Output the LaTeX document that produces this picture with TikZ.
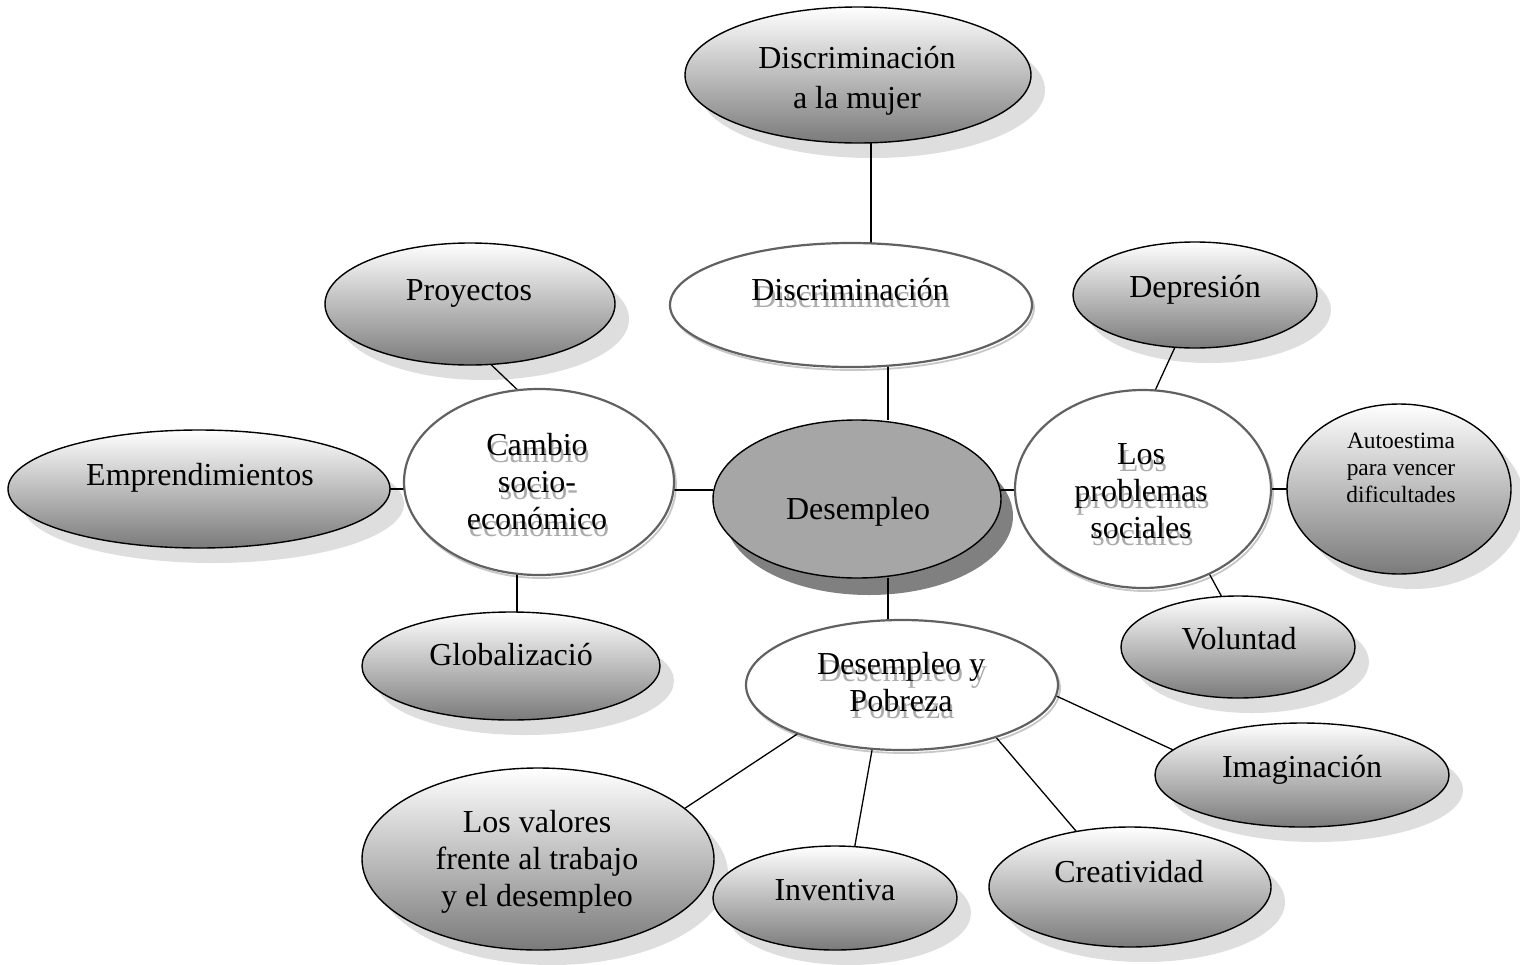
\documentclass[tikz,border=0pt]{standalone}
\usepackage{fontspec}
\setmainfont{Liberation Serif}
\usetikzlibrary{shapes.geometric}
\pgfdeclarelayer{bg}
\pgfdeclarelayer{mid}
\pgfsetlayers{bg,mid,main}
\newcommand{\topst}{\rule{0pt}{22.4pt}}
\newcommand{\botst}{\rule[-8pt]{0pt}{8pt}}
\newcommand{\stopst}{\rule{0pt}{16.4pt}}
\newcommand{\sbotst}{\rule[-5.8pt]{0pt}{5.8pt}}
\tikzset{
  bub/.style={ellipse, inner sep=0pt, outer sep=0pt},
  gbub/.style={bub, draw=black, line width=1.4pt, top color=white, bottom color=black!52},
  wbub/.style={bub, draw=black!62, line width=2.2pt, fill=white},
  cbub/.style={bub, draw=black, line width=1.4pt, fill=black!35},
  lightshadow/.style={fill=black!13},
  darkshadow/.style={fill=black!50},
  wring/.style={draw=black!22, line width=1.8pt},
  txt/.style={align=center, inner sep=0pt, font=\fontsize{32}{36.8}\selectfont},
  smalltxt/.style={align=center, inner sep=0pt, font=\fontsize{23.4}{26.7}\selectfont},
  txtshadow/.style={text=black!33},
  conn/.style={draw=black, line width=1.3pt},
}
% gray bubble: name, x, y, rx, ry
\newcommand{\grayb}[5]{%
  \begin{pgfonlayer}{bg}
    \fill[lightshadow] (#2+14,#3+15) ellipse [x radius=#4, y radius=#5];
  \end{pgfonlayer}
  \node[gbub, minimum width=#4*2pt, minimum height=#5*2pt] (#1) at (#2,#3) {};}
% white bubble: name, x, y, rx, ry
\newcommand{\whiteb}[5]{%
  \begin{pgfonlayer}{bg}
    \draw[wring] (#2+2,#3+3) ellipse [x radius=#4, y radius=#5];
  \end{pgfonlayer}
  \node[wbub, minimum width=#4*2pt, minimum height=#5*2pt] (#1) at (#2,#3) {};}
% shadowed text for white bubbles: name, x, y, text
\newcommand{\shtext}[4]{%
  \node[txt, txtshadow] (#1s) at (#2+2,#3+7) {\topst #4\botst};
  \node[txt] (#1) at (#2,#3) {\topst #4\botst};}
\begin{document}
\begin{tikzpicture}[x=1pt, y=-1pt]
\useasboundingbox (0,0) rectangle (1520,964);
\begin{pgfonlayer}{bg}
  \fill[white] (0,0) rectangle (1520,964);
\end{pgfonlayer}

% gray bubbles
\grayb{mujer}{858}{75}{173}{68}
\grayb{proy}{470}{304}{145}{61}
\grayb{empr}{199}{489}{191}{59}
\grayb{glob}{511}{666}{149}{54}
\grayb{dep}{1195}{295}{122}{53}
\grayb{auto}{1399}{489}{112}{85}
\grayb{vol}{1238}{647}{117}{51}
\grayb{imag}{1302}{775}{147}{52}
\grayb{val}{538}{859}{176}{91}
\grayb{inv}{835}{898}{122}{52}
\grayb{cre}{1130}{887}{141}{60}

% white bubbles
\whiteb{disc}{851}{305}{181}{62}
\whiteb{camb}{539}{482}{135}{93}
\whiteb{probl}{1143}{489}{128}{99}
\whiteb{pobr}{902}{685}{156}{65}

% central bubble
\begin{pgfonlayer}{bg}
  \fill[darkshadow] (857+12,499+17) ellipse [x radius=144, y radius=79];
\end{pgfonlayer}
\node[cbub, minimum width=288pt, minimum height=158pt] (desemp) at (857,499) {};

% connectors
\begin{pgfonlayer}{mid}
\draw[conn] ([xshift=13pt]mujer.south) -- ([xshift=20pt]disc.north);
\draw[conn] ([xshift=37pt]disc.south) -- ([xshift=31pt]desemp.north);
\draw[conn] (proy.-71) -- (camb.103);
\draw[conn] (empr.east) -- (empr.east -| camb.west);
\draw[conn] ([xshift=-22pt]camb.south) -- ([xshift=6pt]glob.north);
\draw[conn] ([yshift=-8pt]camb.east) -- ([yshift=9pt]desemp.west);
\draw[conn] ([yshift=9pt]desemp.east) -- ([yshift=-1pt]probl.west);
\draw[conn] (dep.-111) -- (probl.83);
\draw[conn] (probl.east) -- (probl.east -| auto.west);
\draw[conn] (probl.-52) -- (vol.108);
\draw[conn] ([xshift=31pt]desemp.south) -- ([xshift=-14pt]pobr.north);
\draw[conn] (pobr.-155) -- (val.19);
\draw[conn] (pobr.-115) -- (inv.69);
\draw[conn] (pobr.-29) -- (cre.134);
\draw[conn] (pobr.-4) -- (imag.169);
\end{pgfonlayer}

% texts
\node[txt] (mujerT) at (857,81) {\topst Discriminación\\[3pt]a la mujer\botst};
\node[txt] (proyT) at (469,293) {\topst Proyectos\botst};
\node[txt] (emprT) at (200,478) {\topst Emprendimientos\botst};
\node[txt] (globT) at (511,658) {\topst Globalizació\botst};
\node[txt] (desT) at (858,512) {\topst Desempleo\botst};
\node[txt] (depT) at (1195,290) {\topst Depresión\botst};
\node[smalltxt] (autoT) at (1401,470) {\stopst Autoestima\\para vencer\\dificultades\sbotst};
\node[txt] (volT) at (1239,642) {\topst Voluntad\botst};
\node[txt] (imagT) at (1302,770) {\topst Imaginación\botst};
\node[txt] (valT) at (537,862) {\topst Los valores\\frente al trabajo\\y el desempleo\botst};
\node[txt] (invT) at (835,893) {\topst Inventiva\botst};
\node[txt] (creT) at (1129,875) {\topst Creatividad\botst};
\shtext{discT}{850}{293}{Discriminación}
\shtext{cambT}{537}{485}{Cambio\\socio-\\económico}
\shtext{problT}{1141}{494}{Los\\problemas\\sociales}
\shtext{pobrT}{901}{686}{Desempleo y\\Pobreza}
\end{tikzpicture}
\end{document}
